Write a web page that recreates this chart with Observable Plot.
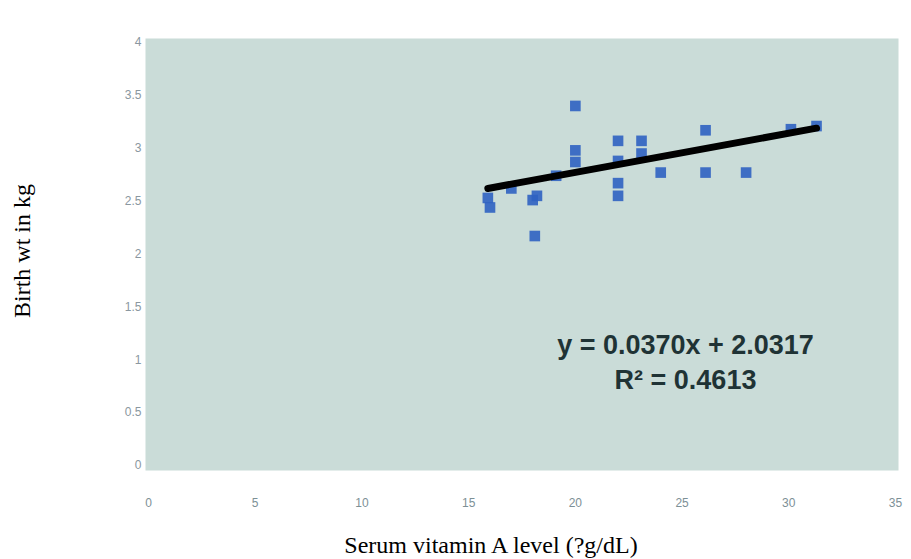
<!DOCTYPE html>
<html><head><meta charset="utf-8">
<script src="https://cdn.jsdelivr.net/npm/d3@7"></script>
<script src="https://cdn.jsdelivr.net/npm/@observablehq/plot@0.6"></script>
<style>
html,body{margin:0;padding:0;background:#fff}
#chart svg{display:block}
</style>
</head><body><div id="chart"></div>
<script>
// Serum vitamin A level (x) and birth weight in kg (y)
const vitaminA = [20.0, 20.0, 20.0, 19.1, 22.0, 22.0, 23.1, 23.1, 24.0, 22.0, 22.0, 15.9, 16.0, 17.0, 18.0, 18.2, 18.1, 26.1, 26.1, 28.0, 30.1, 31.3];
const birthWt  = [3.40, 2.98, 2.87, 2.74, 3.07, 2.88, 3.07, 2.95, 2.77, 2.67, 2.55, 2.53, 2.44, 2.62, 2.51, 2.55, 2.17, 3.17, 2.77, 2.77, 3.18, 3.21];
const xTicks = [0, 5, 10, 15, 20, 25, 30, 35];
const yTicks = [0, 0.5, 1, 1.5, 2, 2.5, 3, 3.5, 4];
const trendSlope = [0.0370];
const trendIntercept = [2.0317];
const equationLines = ["y = 0.0370x + 2.0317", "R\u00B2 = 0.4613"];
const xTitle = "Serum vitamin A level (?g/dL)";
const yTitle = "Birth wt in kg";

const points = vitaminA.map((v, i) => ({x: v, y: birthWt[i]}));
const xMin = d3.min(vitaminA), xMax = d3.max(vitaminA);
const trend = [xMin, xMax].map(x => ({x, y: trendSlope[0] * x + trendIntercept[0]}));

const chart = Plot.plot({
  width: 911,
  height: 559,
  marginLeft: 148,
  marginRight: 16,
  marginTop: 42,
  marginBottom: 94,
  style: {background: "#fff", fontFamily: "Liberation Sans, Arial, sans-serif"},
  x: {domain: [0, 35], ticks: xTicks, label: null},
  y: {domain: [0, 4], ticks: yTicks, label: null},
  marks: [
    Plot.frame({fill: "#cadcd8", stroke: null, insetLeft: -3, insetRight: -3, insetTop: -4, insetBottom: -5}),
    Plot.axisX({ticks: xTicks, tickSize: 0, tickPadding: 33, fontSize: 12, fill: "#7d9096", tickFormat: d => d}),
    Plot.axisY({ticks: yTicks, tickSize: 0, tickPadding: 7, fontSize: 12, fill: "#8a97a0", tickFormat: d => d}),
    Plot.dot(points, {x: "x", y: "y", symbol: "square", r: 6, fill: "#2f62c2", fillOpacity: 0.9, stroke: null}),
    Plot.line(trend, {x: "x", y: "y", stroke: "#000", strokeWidth: 7}),
    Plot.text([equationLines.join("\n")], {
      frameAnchor: "right", textAnchor: "middle", lineAnchor: "middle",
      dx: -210, dy: 106, fontSize: 27, fontWeight: "bold", lineHeight: 1.33, fill: "#1f3335", text: d => d
    }),
    Plot.text([xTitle], {frameAnchor: "bottom", textAnchor: "middle", lineAnchor: "middle", dx: -31, dy: 80, fontSize: 24, fill: "#000",
      fontFamily: "Liberation Serif, Times New Roman, serif", text: d => d}),
    Plot.text([yTitle], {frameAnchor: "left", textAnchor: "middle", lineAnchor: "middle", dx: -126, dy: -3, rotate: -90, fontSize: 24, fill: "#000",
      fontFamily: "Liberation Serif, Times New Roman, serif", text: d => d})
  ]
});
document.getElementById("chart").appendChild(chart);
</script>
</body></html>
